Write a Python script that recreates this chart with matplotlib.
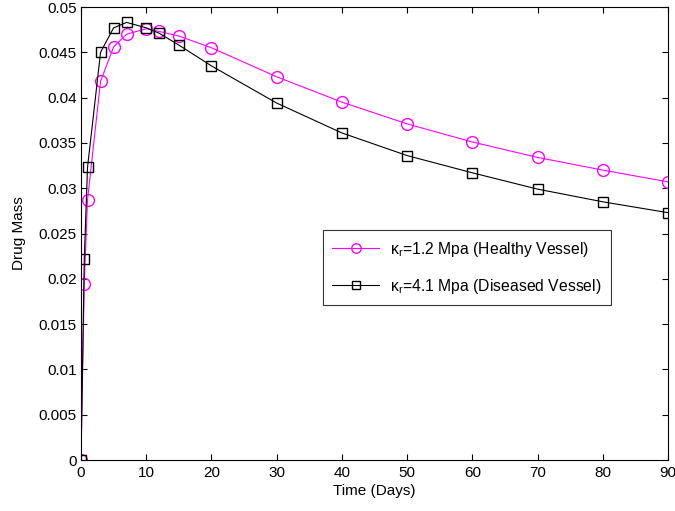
import numpy as np
import matplotlib
matplotlib.use("Agg")
import matplotlib.pyplot as plt

plt.rcParams["font.family"] = ["Liberation Sans", "DejaVu Sans"]
plt.rcParams["mathtext.fontset"] = "custom"
plt.rcParams["mathtext.rm"] = "Liberation Sans"

# Time points (days)
days = [0, 0.5, 1, 3, 5, 7, 10, 12, 15, 20, 30, 40, 50, 60, 70, 80, 90]

# Drug mass
healthy = [0.0, 0.0194, 0.0287, 0.0418, 0.0456, 0.0470, 0.0476, 0.0473, 0.0468,
           0.0455, 0.0423, 0.0395, 0.0371, 0.0351, 0.0334, 0.0320, 0.0307]
diseased = [0.0, 0.0222, 0.0323, 0.0450, 0.0477, 0.0483, 0.0477, 0.0471, 0.0458,
            0.0435, 0.0394, 0.0361, 0.0336, 0.0317, 0.0299, 0.0285, 0.0273]

x_ticks = [0, 10, 20, 30, 40, 50, 60, 70, 80, 90]
y_ticks = [0, 0.005, 0.01, 0.015, 0.02, 0.025, 0.03, 0.035, 0.04, 0.045, 0.05]
y_labels = ["0", "0.005", "0.01", "0.015", "0.02", "0.025", "0.03", "0.035",
            "0.04", "0.045", "0.05"]

fig = plt.figure(figsize=(6.75, 5.11), dpi=100)
ax = fig.add_axes([0.12, 0.0998, 0.8696, 0.8865])

ax.plot(days, healthy, color="#ff00ff", marker="o", markersize=8.5,
        markerfacecolor="none", linewidth=0.8,
        label="κ$_\\mathregular{r}$=1.2 Mpa (Healthy Vessel)")
ax.plot(days, diseased, color="black", marker="s", markersize=7,
        markerfacecolor="none", linewidth=0.8,
        label="κ$_\\mathregular{r}$=4.1 Mpa (Diseased Vessel)")

ax.set_xlim(0, 90)
ax.set_ylim(0, 0.05)
ax.set_xticks(x_ticks)
ax.set_yticks(y_ticks)
ax.set_yticklabels(y_labels)
ax.tick_params(direction="in", top=True, right=True, labelsize=11, length=4)
ax.tick_params(axis="x", pad=4)
ax.tick_params(axis="y", pad=3)
for s in ax.spines.values():
    s.set_linewidth(0.8)

ax.set_xlabel("Time (Days)", fontsize=11, labelpad=3)
ax.set_ylabel("Drug Mass", fontsize=11, labelpad=9)

# legend box placed where the reference has it (lower-left corner in axes units)
leg = ax.legend(loc="lower left", bbox_to_anchor=(0.412, 0.342), borderaxespad=0,
                fontsize=11.3, frameon=True, fancybox=False, edgecolor="black",
                handlelength=3.0, handletextpad=0.7, borderpad=0.6,
                labelspacing=1.15, markerscale=0.8)
leg.get_frame().set_linewidth(0.8)

fig.savefig("out.png", dpi=100)
